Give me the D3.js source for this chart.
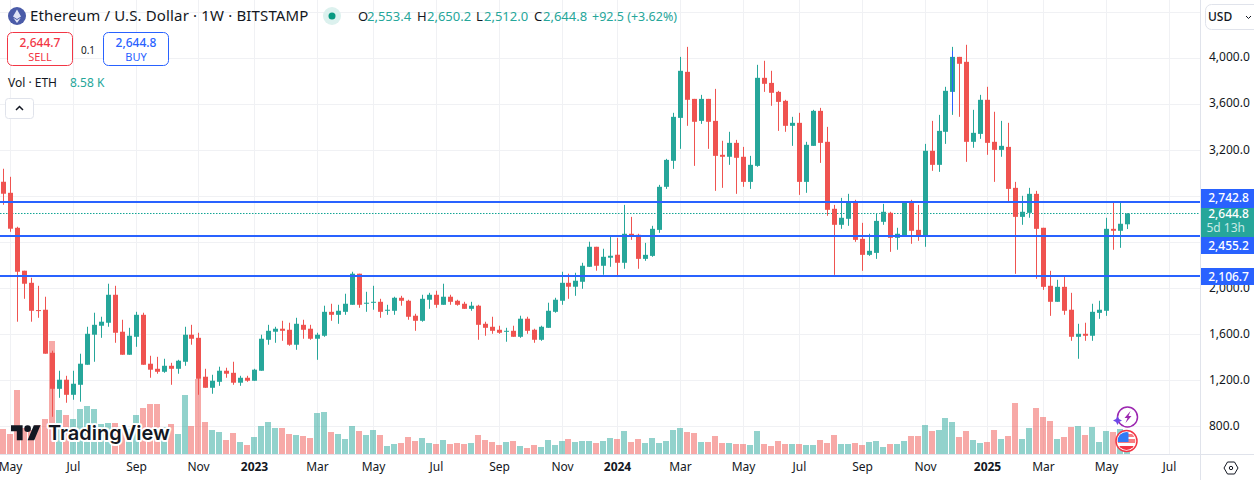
<!DOCTYPE html>
<html>
<head>
<meta charset="utf-8">
<script src="https://cdn.jsdelivr.net/npm/d3@7"></script>
<style>
  html, body { margin: 0; padding: 0; background: #fff; overflow: hidden; }
  svg { display: block; }
  text { font-family: "Noto Sans", sans-serif; }
</style>
</head>
<body>
<svg id="chart" width="1254" height="480"></svg>
<script>
const open = [
  2923,2827,2523,2150,2045,1808,1811,1437,1124,1203,
  1072,1159,1333,1594,1672,1698,1941,1620,1420,1576,
  1767,1342,1298,1272,1324,1298,1359,1594,1567,1229,
  1133,1185,1281,1263,1177,1220,1194,1281,1550,1620,
  1646,1637,1507,1680,1646,1559,1585,1793,1767,1793,
  1854,2124,1863,1872,1880,1802,1802,1915,1889,1759,
  1715,1898,1941,1854,1924,1889,1863,1819,1846,1689,
  1663,1637,1620,1628,1576,1733,1637,1550,1654,1793,
  1889,2045,2011,2054,2184,2358,2193,2263,2289,2219,
  2471,2462,2253,2279,2505,2879,3105,3478,3878,3643,
  3452,3643,3452,3157,3140,3261,3140,2922,3061,3826,
  3782,3704,3626,3409,3435,2922,3235,3539,3270,2688,
  2549,2601,2749,2427,2288,2305,2575,2653,2436,2453,
  2749,2505,2453,3192,3070,3357,3704,4008,3965,3270,
  3339,3635,3270,3200,3226,2870,2618,2653,2818,2523,
  2019,1880,2010,1811,1576,1602,1585,1784,1802,2514,
  2497,2553.4
];
const high = [
  3036,2966,2532,2150,2089,2019,1924,1455,1281,1237,
  1281,1429,1663,1785,1750,2037,2019,1724,1654,1793,
  1785,1411,1402,1385,1350,1376,1663,1680,1611,1298,
  1246,1316,1307,1359,1237,1237,1298,1594,1680,1663,
  1715,1698,1741,1724,1680,1611,1846,1863,1854,1950,
  2141,2124,1967,2019,1906,1854,1924,1932,1898,1776,
  1941,1958,1976,2037,1941,1898,1880,1880,1854,1707,
  1750,1672,1654,1672,1759,1750,1646,1672,1872,1915,
  2141,2124,2132,2219,2402,2358,2341,2454,2436,2722,
  2618,2471,2392,2540,2896,3122,3522,4008,4095,3643,
  3678,3643,3730,3279,3357,3287,3226,3148,3939,3974,
  3887,3713,3635,3487,3522,3270,3548,3565,3400,2722,
  2783,2818,2766,2566,2471,2644,2731,2662,2523,2749,
  2766,2722,3252,3452,3504,3748,4095,4008,4113,3548,
  3678,3748,3531,3452,3435,2922,2801,2870,2844,2523,
  2149,2071,2106,1958,1689,1698,1863,1889,2610,2740,
  2749,2650.2
];
const low = [
  2723,2488,1707,1906,1707,1741,1429,881,1046,1003,
  1029,1012,1333,1359,1567,1663,1524,1420,1420,1489,
  1333,1220,1255,1263,1159,1255,1324,1507,1072,1133,
  1081,1150,1220,1159,1150,1185,1194,1281,1507,1524,
  1541,1498,1463,1559,1550,1376,1576,1715,1689,1767,
  1854,1828,1793,1811,1741,1767,1767,1846,1724,1628,
  1707,1819,1828,1854,1854,1846,1819,1802,1550,1585,
  1602,1602,1533,1576,1567,1602,1524,1541,1654,1785,
  1854,1906,1932,1993,2184,2150,2115,2184,2106,2167,
  2418,2167,2236,2271,2479,2861,3035,3209,3409,3061,
  3426,3209,2844,2870,3070,2818,2879,2861,3053,3704,
  3583,3365,3357,3235,2809,2827,3235,3087,2627,2114,
  2514,2540,2401,2149,2279,2253,2549,2314,2332,2444,
  2384,2410,2358,3018,3009,3252,3504,3487,3096,3218,
  3296,3157,2922,3140,2749,2123,2549,2610,2080,1984,
  1758,1880,1767,1541,1385,1541,1541,1732,1758,2332,
  2349,2512.0
];
const close = [
  2819,2515,2141,2037,1802,1802,1429,1124,1203,1072,
  1168,1342,1602,1680,1707,1941,1611,1420,1585,1767,
  1333,1290,1272,1324,1298,1368,1594,1559,1211,1133,
  1194,1281,1255,1177,1220,1194,1290,1559,1628,1646,
  1628,1507,1689,1637,1559,1594,1793,1767,1802,1863,
  2124,1854,1872,1880,1793,1811,1915,1889,1750,1715,
  1906,1941,1854,1924,1880,1854,1819,1846,1680,1654,
  1628,1611,1628,1576,1733,1628,1550,1663,1802,1898,
  2045,2011,2063,2193,2358,2193,2271,2280,2219,2471,
  2453,2253,2288,2514,2879,3113,3487,3887,3635,3444,
  3643,3444,3148,3140,3261,3131,2922,3070,3826,3774,
  3696,3617,3409,3435,2922,3244,3539,3261,2679,2549,
  2610,2749,2418,2288,2323,2583,2662,2436,2471,2749,
  2497,2453,3192,3070,3365,3713,4008,3948,3270,3348,
  3635,3261,3200,3235,2861,2618,2662,2818,2514,2010,
  1880,2010,1802,1576,1602,1585,1793,1811,2514,2497,
  2558,2644.8
];
// volume in thousands of ETH
const volume = [
  25,20,64,26,24,29,35,113,44,39,
  35,45,48,45,30,31,31,25,25,39,
  46,50,50,27,30,20,59,28,75,32,
  24,22,14,21,12,9,17,28,32,26,
  26,20,19,18,16,41,42,22,20,15,
  28,23,19,24,19,8,10,11,17,13,
  16,11,10,14,10,11,10,11,19,14,
  12,9,12,13,8,6,9,7,14,9,
  13,15,12,13,13,11,13,16,15,23,
  12,15,11,16,11,13,24,26,22,21,
  12,12,18,11,11,10,10,9,23,10,
  8,13,10,10,10,9,9,14,11,19,
  10,10,11,9,12,13,7,10,10,13,
  18,18,29,23,24,36,32,17,23,14,
  11,12,24,15,18,51,15,26,46,37,
  33,15,17,27,28,19,27,12,23,22,
  25,8.58
];
const gridPrices = [4400, 4000, 3600, 3200, 2800, 2400, 2000, 1600, 1200, 800];
// 2,800 and 2,400 sit behind the level tags in the reference so they get no label
const priceTicks = [4000, 3600, 3200, 2000, 1600, 1200, 800];
const timeTickIndex = [1, 10, 19, 28, 36, 45, 53, 62, 71, 80, 88, 97, 106, 114, 123, 132, 141, 149, 158, 167];
const timeTickLabel = ["May", "Jul", "Sep", "Nov", "2023", "Mar", "May", "Jul", "Sep", "Nov", "2024", "Mar", "May", "Jul", "Sep", "Nov", "2025", "Mar", "May", "Jul"];
const levels = [2742.8, 2455.2, 2106.7];
const lastPrice = 2644.8;

const green = "#26a69a", red = "#ef5350", blue = "#2962ff", dark = "#131722";
const paneRight = 1200, paneBottom = 454;

const svg = d3.select("#chart");
const x = d3.scaleLinear().domain([0, 161]).range([3.5, 1127.5]);
const y = d3.scaleLinear().domain([800, 4000]).range([426.1, 57.8]);
const yVol = d3.scaleLinear().domain([0, 100]).range([paneBottom, paneBottom - 100]);
const cx = (i) => Math.floor(x(i)) + 0.5;
const candles = d3.range(close.length);

// grid
const grid = svg.append("g").attr("stroke", "#f0f1f4");
grid.selectAll(".h").data(gridPrices).enter().append("line")
  .attr("x1", 0).attr("x2", paneRight)
  .attr("y1", (d) => Math.round(y(d)) + 0.5).attr("y2", (d) => Math.round(y(d)) + 0.5);
grid.selectAll(".v").data(timeTickIndex).enter().append("line")
  .attr("x1", cx).attr("x2", cx)
  .attr("y1", 0).attr("y2", paneBottom);

// volume
svg.append("g").selectAll("rect").data(candles).enter().append("rect")
  .attr("x", (i) => cx(i) - 3.5)
  .attr("width", 6)
  .attr("y", (i) => yVol(volume[i]))
  .attr("height", (i) => paneBottom - yVol(volume[i]))
  .attr("fill", (i) => (close[i] >= open[i] ? green : red))
  .attr("opacity", 0.5);

// last price dotted line
svg.append("line")
  .attr("x1", 0).attr("x2", paneRight)
  .attr("y1", Math.floor(y(lastPrice)) + 0.5).attr("y2", Math.floor(y(lastPrice)) + 0.5)
  .attr("stroke", "#12a594").attr("stroke-dasharray", "1.5 1.5");

// candles
const candle = svg.append("g").selectAll("g").data(candles).enter().append("g")
  .attr("fill", (i) => (close[i] >= open[i] ? green : red))
  .attr("stroke", (i) => (close[i] >= open[i] ? green : red));
candle.append("line")
  .attr("x1", cx).attr("x2", cx)
  .attr("y1", (i) => y(high[i])).attr("y2", (i) => y(low[i]));
candle.append("rect")
  .attr("stroke", "none")
  .attr("x", (i) => cx(i) - 2.5)
  .attr("width", 5)
  .attr("y", (i) => y(Math.max(open[i], close[i])))
  .attr("height", (i) => Math.max(1, Math.abs(y(open[i]) - y(close[i]))));

// horizontal levels
svg.append("g").selectAll("line").data(levels).enter().append("line")
  .attr("x1", 0).attr("x2", paneRight)
  .attr("y1", (d) => Math.round(y(d))).attr("y2", (d) => Math.round(y(d)))
  .attr("stroke", blue).attr("stroke-width", 2);

// blue stroke drawn over the lower wick of the December 2024 candle
svg.append("line")
  .attr("x1", cx(136)).attr("x2", cx(136))
  .attr("y1", y(close[135] + 347)).attr("y2", y(low[136] + 30))
  .attr("stroke", blue);

// tradingview logo
const logo = svg.append("g").attr("transform", "translate(11,422) scale(0.83)");
logo.append("path").attr("fill", dark)
  .attr("d", "M14 22H7V11H0V4h14v18zM28 22h-8l7.5-18h8L28 22z");
logo.append("circle").attr("cx", 20).attr("cy", 8).attr("r", 4).attr("fill", dark);
svg.append("text").attr("x", 48).attr("y", 440)
  .attr("font-size", 20).attr("font-weight", 600)
  .attr("fill", dark).attr("stroke", "#fff").attr("stroke-width", 4)
  .attr("paint-order", "stroke").attr("stroke-linejoin", "round")
  .style("font-family", "Inter")
  .text("TradingView");

// event markers near the last bar
const bolt = svg.append("g").attr("transform", `translate(${cx(161)},417)`);
bolt.append("circle").attr("r", 10).attr("fill", "#fff").attr("stroke", "#9c27b0").attr("stroke-width", 1.5);
bolt.append("path").attr("d", "M3 -6 L-3 1 L0 1 L-2 6 L4 -1 L1 -1 Z").attr("fill", "#9c27b0");
bolt.append("path").attr("d", "M-10 -1 L-8.5 2 L-5.5 3.5 L-8.5 5 L-10 8 L-11.5 5 L-14.5 3.5 L-11.5 2 Z").attr("fill", "#6e48e8");
const flag = svg.append("g").attr("transform", `translate(${cx(161) - 1},441)`);
flag.append("clipPath").attr("id", "flagClip").append("circle").attr("r", 9);
flag.append("circle").attr("r", 10.5).attr("fill", "#fff").attr("stroke", "#f23645").attr("stroke-width", 1.5);
const flagFill = flag.append("g").attr("clip-path", "url(#flagClip)");
flagFill.append("rect").attr("x", -9).attr("y", -7).attr("width", 18).attr("height", 3).attr("fill", "#f77c80");
flagFill.append("rect").attr("x", -9).attr("y", -2).attr("width", 18).attr("height", 4).attr("fill", "#f77c80");
flagFill.append("rect").attr("x", -9).attr("y", 5).attr("width", 18).attr("height", 5).attr("fill", "#f23645");
flagFill.append("rect").attr("x", -9).attr("y", -9).attr("width", 11).attr("height", 10).attr("fill", "#3179f5");

// price axis
svg.append("rect").attr("x", paneRight).attr("y", 0).attr("width", 54).attr("height", 480).attr("fill", "#fff");
svg.append("rect").attr("x", 0).attr("y", paneBottom).attr("width", paneRight).attr("height", 26).attr("fill", "#fff");
svg.append("line").attr("x1", paneRight + 0.5).attr("x2", paneRight + 0.5).attr("y1", 0).attr("y2", 480).attr("stroke", "#e0e3eb");
svg.append("line").attr("x1", 0).attr("x2", 1254).attr("y1", paneBottom + 0.5).attr("y2", paneBottom + 0.5).attr("stroke", "#e0e3eb");

const priceAxis = svg.append("g")
  .attr("transform", `translate(${paneRight},-0.7)`)
  .call(d3.axisRight(y).tickValues(priceTicks).tickSize(0).tickPadding(9).tickFormat(d3.format(",.1f")));
priceAxis.select(".domain").remove();
priceAxis.selectAll("text").attr("font-size", 12).attr("fill", dark).style("font-family", '"Noto Sans"');

// time axis
svg.append("g").selectAll("text").data(timeTickIndex).enter().append("text")
  .attr("x", cx)
  .attr("y", 471)
  .attr("text-anchor", "middle")
  .attr("font-size", 12)
  .attr("font-weight", (d, i) => (timeTickLabel[i].length === 4 ? 700 : 400))
  .attr("fill", dark)
  .text((d, i) => timeTickLabel[i]);

// axis labels for levels and last price
const boxes = [
  { top: 189, h: 19, fill: blue, text: "2,742.8" },
  { top: 237, h: 17, fill: blue, text: "2,455.2" },
  { top: 268, h: 17, fill: blue, text: "2,106.7" }
];
const axisTags = svg.append("g").selectAll("g").data(boxes).enter().append("g");
axisTags.append("rect")
  .attr("x", paneRight + 1).attr("y", (d) => d.top)
  .attr("width", 53).attr("height", (d) => d.h).attr("fill", (d) => d.fill);
axisTags.append("text")
  .attr("x", 1249).attr("y", (d) => d.top + 12.5)
  .attr("text-anchor", "end").attr("font-size", 12).attr("font-weight", 500)
  .attr("fill", "#fff").text((d) => d.text);
svg.append("rect").attr("x", paneRight + 1).attr("y", 208).attr("width", 53).attr("height", 29).attr("fill", green);
svg.append("text").attr("x", 1249).attr("y", 218).attr("text-anchor", "end")
  .attr("font-size", 12).attr("font-weight", 500).attr("fill", "#fff").text("2,644.8");
svg.append("text").attr("x", 1245).attr("y", 232).attr("text-anchor", "end")
  .attr("font-size", 12).attr("fill", "#c8eae6").text("5d 13h");

// settings icon
const gear = svg.append("g").attr("transform", "translate(1231,468)").attr("fill", "none").attr("stroke", dark);
gear.append("path").attr("d", "M-7 0 L-3.5 -6 L3.5 -6 L7 0 L3.5 6 L-3.5 6 Z");
gear.append("circle").attr("r", 1.7);

// USD button
svg.append("rect").attr("x", 1205.5).attr("y", 4.5).attr("width", 60).attr("height", 25).attr("rx", 6)
  .attr("fill", "#fff").attr("stroke", "#e0e3eb");
svg.append("text").attr("x", 1208).attr("y", 21).attr("font-size", 12).attr("font-weight", 500).attr("fill", dark).text("USD");
svg.append("path").attr("d", "M1246 16 l2.5 2.5 l2.5 -2.5").attr("fill", "none").attr("stroke", dark);

// legend
const eth = svg.append("g").attr("transform", "translate(17,16)");
eth.append("circle").attr("r", 9).attr("fill", "#4a5ba8");
eth.append("path").attr("d", "M0 -6.5 L4 0.5 L0 3 L-4 0.5 Z M0 4 L3.8 1.8 L0 7 L-3.8 1.8 Z").attr("fill", "#dfe3f5");
svg.append("text").attr("x", 30).attr("y", 21).attr("font-size", 15).attr("letter-spacing", 0.15).attr("fill", dark)
  .text("Ethereum / U.S. Dollar · 1W · BITSTAMP");
svg.append("circle").attr("cx", 332).attr("cy", 16).attr("r", 9).attr("fill", "#dcf1ee");
svg.append("circle").attr("cx", 332).attr("cy", 16).attr("r", 3.5).attr("fill", "#089981");

const ohlcLetters = ["O", "H", "L", "C"];
const ohlcLetterX = [358, 417, 476, 534];
const ohlcValueX = [367, 427, 484, 543];
const ohlcValues = ["2,553.4", "2,650.2", "2,512.0", "2,644.8"];
svg.append("g").selectAll("text").data(ohlcLetters).enter().append("text")
  .attr("x", (d, i) => ohlcLetterX[i]).attr("y", 21).attr("font-size", 13).attr("fill", dark).text((d) => d);
svg.append("g").selectAll("text").data(ohlcValues).enter().append("text")
  .attr("x", (d, i) => ohlcValueX[i]).attr("y", 21).attr("font-size", 13).attr("fill", green).text((d) => d);
svg.append("text").attr("x", 592).attr("y", 21).attr("font-size", 12.5).attr("fill", green).text("+92.5 (+3.62%)");

// sell / buy
const tradeBoxes = [
  { x: 7.5, color: "#f23645", stroke: "#f23645", price: "2,644.7", side: "SELL" },
  { x: 103.5, color: "#2962ff", stroke: "#2962ff", price: "2,644.8", side: "BUY" }
];
const trade = svg.append("g").selectAll("g").data(tradeBoxes).enter().append("g");
trade.append("rect").attr("x", (d) => d.x).attr("y", 32.5).attr("width", 65).attr("height", 33).attr("rx", 5)
  .attr("fill", "#fff").attr("stroke", (d) => d.stroke);
trade.append("text").attr("x", (d) => d.x + 32.5).attr("y", 47).attr("text-anchor", "middle")
  .attr("font-size", 12).attr("font-weight", 500).attr("fill", (d) => d.color).text((d) => d.price);
trade.append("text").attr("x", (d) => d.x + 32.5).attr("y", 61).attr("text-anchor", "middle")
  .attr("font-size", 11).attr("fill", (d) => d.color).text((d) => d.side);
svg.append("text").attr("x", 88).attr("y", 54).attr("text-anchor", "middle").attr("font-size", 10).attr("fill", dark).text("0.1");

// volume legend
svg.append("text").attr("x", 8).attr("y", 87).attr("font-size", 12).attr("fill", dark).text("Vol · ETH");
svg.append("text").attr("x", 70).attr("y", 87).attr("font-size", 12).attr("fill", green).text("8.58 K");

// collapse button
svg.append("rect").attr("x", 5.5).attr("y", 98.5).attr("width", 28).attr("height", 20).attr("rx", 3)
  .attr("fill", "#fff").attr("stroke", "#e0e3eb");
svg.append("path").attr("d", "M16 110 l3.5 -3.5 l3.5 3.5").attr("fill", "none").attr("stroke", dark).attr("stroke-width", 1.5);
</script>
</body>
</html>
